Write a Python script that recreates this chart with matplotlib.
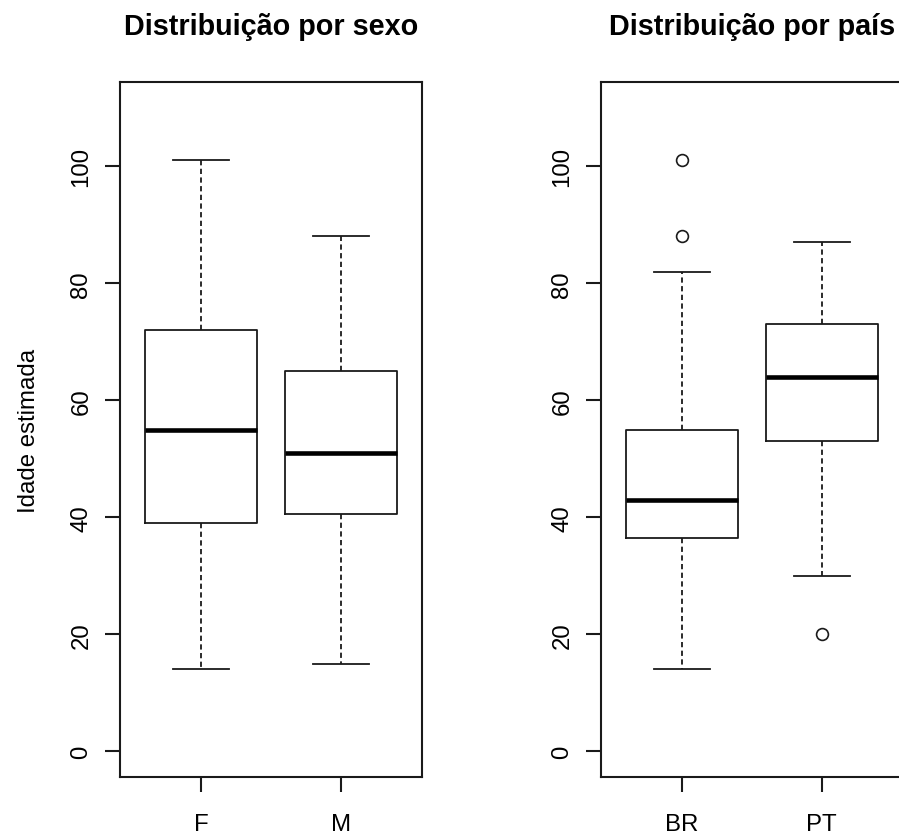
import matplotlib
matplotlib.use('Agg')
import matplotlib.pyplot as plt

plt.rcParams['font.family'] = ['Liberation Sans', 'DejaVu Sans']

# ---- data ----
categories_sexo = ['F', 'M']
whislo_sexo = [14, 15]
q1_sexo = [39, 40.5]
med_sexo = [55, 51]
q3_sexo = [72, 65]
whishi_sexo = [101, 88]
fliers_sexo = [[], []]

categories_pais = ['BR', 'PT']
whislo_pais = [14, 30]
q1_pais = [36.5, 53]
med_pais = [43, 64]
q3_pais = [55, 73]
whishi_pais = [82, 87]
fliers_pais = [[88, 101], [20]]

titles = ['Distribuição por sexo', 'Distribuição por país']
yticks = [0, 20, 40, 60, 80, 100]
ylabel = 'Idade estimada'

W, H = 899, 837
fig = plt.figure(figsize=(W / 100, H / 100), dpi=100)


def px_axes(left, top, right, bottom):
    return fig.add_axes([left / W, 1 - bottom / H, (right - left) / W, (bottom - top) / H])


ax1 = px_axes(120, 83, 422, 778)
ax2 = px_axes(600.8, 83, 902.8, 778)

LW = 1.3
INK = '#1a1a1a'


def draw(ax, cats, lo, q1, med, q3, hi, fl, title):
    stats = [dict(label=c, whislo=a, q1=b, med=m, q3=d, whishi=e, fliers=f)
             for c, a, b, m, d, e, f in zip(cats, lo, q1, med, q3, hi, fl)]
    ax.bxp(stats, positions=[1, 2], widths=0.8, capwidths=0.4, showfliers=True,
           boxprops=dict(color=INK, lw=LW),
           whiskerprops=dict(color=INK, lw=LW, linestyle=(0, (2.9, 1.9))),
           capprops=dict(color=INK, lw=LW),
           medianprops=dict(color='black', lw=3.3, solid_capstyle='butt'),
           flierprops=dict(marker='o', markerfacecolor='none', markeredgecolor=INK,
                           markersize=8.5, markeredgewidth=1.2, linestyle='none'))
    ax.set_xlim(0.42, 2.58)
    ax.set_ylim(-4.4, 114.4)
    ax.set_xticks([1, 2])
    ax.set_xticklabels(cats)
    ax.set_yticks(yticks)
    ax.set_yticklabels([str(v) for v in yticks])
    ax.tick_params(direction='out', length=10.8, width=1.5, labelsize=17.3, color=INK)
    ax.tick_params(axis='x', pad=15)
    ax.tick_params(axis='y', pad=9)
    for lab in ax.get_yticklabels():
        lab.set_rotation(90)
        lab.set_va('center')
    for s in ax.spines.values():
        s.set_linewidth(1.5)
        s.set_color(INK)
    ax.set_title(title, fontsize=20.7, fontweight='bold', pad=34.6)


draw(ax1, categories_sexo, whislo_sexo, q1_sexo, med_sexo, q3_sexo, whishi_sexo, fliers_sexo, titles[0])
draw(ax2, categories_pais, whislo_pais, q1_pais, med_pais, q3_pais, whishi_pais, fliers_pais, titles[1])

fig.text(29 / W, 1 - 430.5 / H, ylabel, rotation=90, ha='center', va='center', fontsize=17.3)

fig.savefig('out.png', dpi=100)
